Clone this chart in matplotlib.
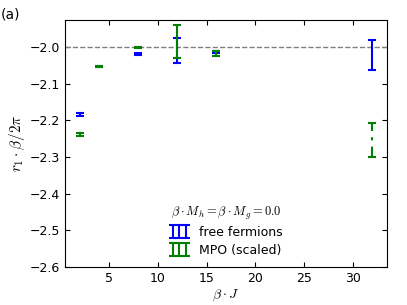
import matplotlib
matplotlib.use("Agg")
import matplotlib.pyplot as plt

plt.rcParams['mathtext.fontset'] = 'cm'
plt.rcParams['font.size'] = 9

# data ---------------------------------------------------------------------------
beta_j = [2, 4, 8, 12, 16, 32]
free_y = [-2.184, -2.052, -2.018, -2.008, -2.012, -2.021]
free_err = [0.004, 0.002, 0.002, 0.034, 0.003, 0.040]
mpo_x = [2, 4, 8, 12, 16]
mpo_y = [-2.238, -2.052, -2.000, -1.983, -2.018]
mpo_err = [0.005, 0.002, 0.002, 0.045, 0.007]
mpo_last_x = [32]
mpo_last_y = [-2.254]
mpo_last_err = [0.046]

fig, ax = plt.subplots(figsize=(4.07, 3.05), dpi=100)
fig.subplots_adjust(left=0.16, right=0.951, top=0.935, bottom=0.125)

ax.axhline(-2.0, color='gray', ls='--', lw=1)

ax.errorbar(beta_j, free_y, yerr=free_err, fmt='none', ecolor='blue',
            elinewidth=1.5, capsize=3, capthick=1.5, label='free fermions')
ax.errorbar(mpo_x, mpo_y, yerr=mpo_err, fmt='none', ecolor='green',
            elinewidth=1.5, capsize=3, capthick=1.5, label='MPO (scaled)')
eb = ax.errorbar(mpo_last_x, mpo_last_y, yerr=mpo_last_err, fmt='none', ecolor='green',
                 elinewidth=1.5, capsize=3, capthick=1.5)
eb[2][0].set_linestyle((0, (5, 3, 1.5, 3)))

ax.set_xlim(0.5, 33.5)
ax.set_ylim(-2.6, -1.925)
ax.set_xticks([5, 10, 15, 20, 25, 30])
ax.set_yticks([-2.6, -2.5, -2.4, -2.3, -2.2, -2.1, -2.0])
ax.tick_params(direction='in', top=True, right=True)
ax.set_xlabel(r'$\beta \cdot J$', fontsize=10, labelpad=2)
ax.set_ylabel(r'$r_1 \cdot \beta / 2\pi$', fontsize=11, labelpad=2)

ax.legend(loc='lower center', bbox_to_anchor=(0.5, -0.005), frameon=False,
          numpoints=3, handlelength=1.6, handletextpad=0.8, labelspacing=0.4,
          title=r'$\beta \cdot M_h = \beta \cdot M_g = 0.0$', title_fontsize=9)
ax.get_legend()._legend_box.sep = 3

fig.text(0.002, 0.975, '(a)', fontsize=10, va='top')

fig.savefig('out.png', dpi=100)
